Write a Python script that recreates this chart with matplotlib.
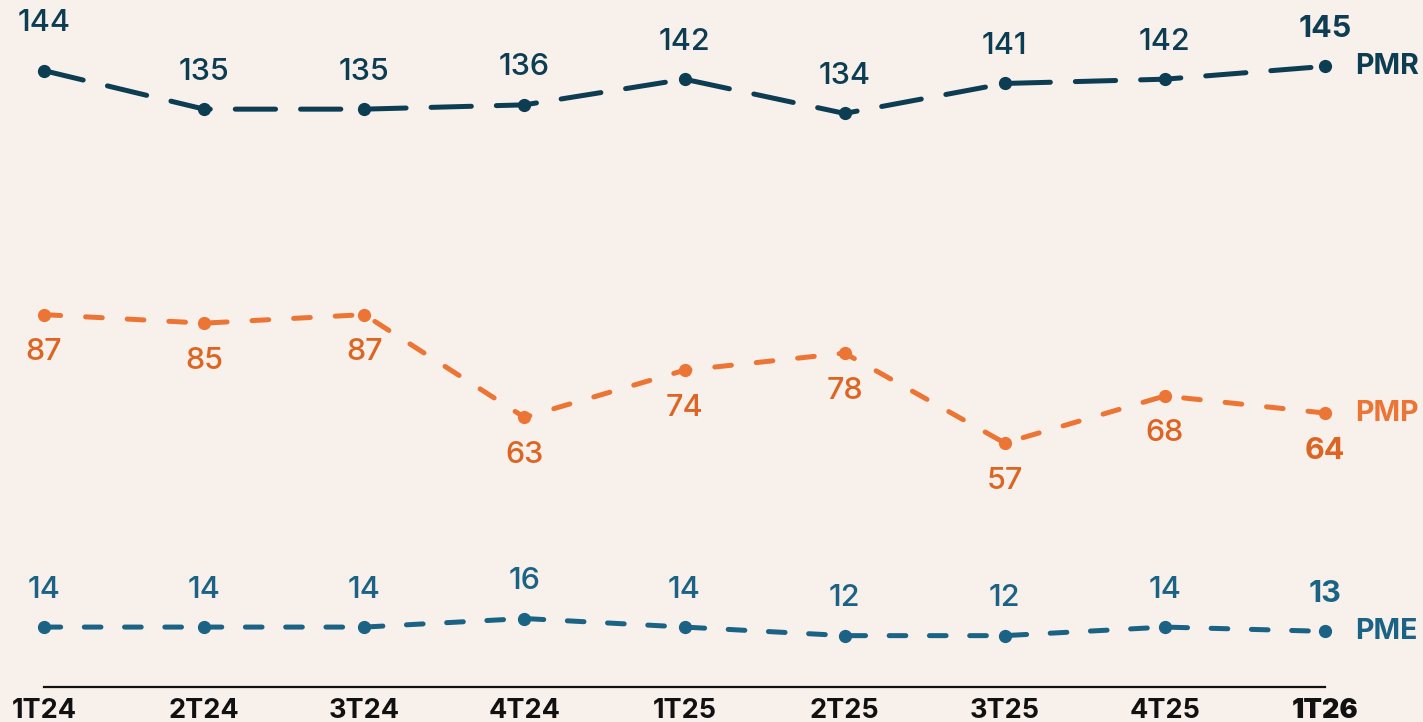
import matplotlib.pyplot as plt

# trimestres e séries
trimestres = ['1T24', '2T24', '3T24', '4T24', '1T25', '2T25', '3T25', '4T25', '1T26']
pmr = [144, 135, 135, 136, 142, 134, 141, 142, 145]
pmp = [87, 85, 87, 63, 74, 78, 57, 68, 64]
pme = [14, 14, 14, 16, 14, 12, 12, 14, 13]

bg = '#f8f0ea'
c_pmr = '#0d3d52'
c_pmp = '#ec7535'
c_pmp_txt = '#dc6523'
c_pme = '#1b6385'

plt.rcParams['font.family'] = ['Inter', 'DejaVu Sans']
plt.rcParams['lines.scale_dashes'] = False

fig = plt.figure(figsize=(14.23, 7.22), dpi=100, facecolor=bg)
ax = fig.add_axes([44 / 1423, 35 / 722, (1325 - 44) / 1423, 687 / 722])
ax.set_facecolor(bg)

x = list(range(len(trimestres)))

series = [
    (pmr, c_pmr, c_pmr, 'PMR', (29, 18), 1),
    (pmp, c_pmp, c_pmp_txt, 'PMP', (12, 18), -1),
    (pme, c_pme, c_pme, 'PME', (12, 17), 1),
]

for vals, cor, cor_txt, nome, dash, lado in series:
    ax.plot(x, vals, color=cor, lw=3.6, dashes=dash, dash_capstyle='round',
            marker='o', markersize=8.5, clip_on=False, zorder=3)
    for i, v in enumerate(vals):
        ultimo = i == len(vals) - 1
        desloc = 27 * lado
        if nome == 'PMR' and i == 0:
            desloc = 34
        ax.annotate(str(v), (i, v), xytext=(0, desloc), textcoords='offset points',
                    ha='center', va='center', fontsize=22, color=cor_txt,
                    fontweight='bold' if ultimo else 'medium')
    ax.annotate(nome, (x[-1], vals[-1]), xytext=(22, 0), textcoords='offset points',
                ha='left', va='center', fontsize=20.5, color=cor, fontweight='bold',
                annotation_clip=False)

ax.set_xlim(0, len(trimestres) - 1)
ax.set_ylim(0, 160.5)
ax.set_xticks(x)
ax.set_xticklabels(trimestres, fontsize=19.5, fontweight='bold', color='#111111')
ax.get_xticklabels()[-1].set_fontweight('black')
ax.tick_params(axis='x', length=0, pad=8)
ax.set_yticks([])
for s in ['top', 'right', 'left']:
    ax.spines[s].set_visible(False)
ax.spines['bottom'].set_color('#111111')
ax.spines['bottom'].set_linewidth(1.6)

fig.savefig('out.png', dpi=100, facecolor=bg)
